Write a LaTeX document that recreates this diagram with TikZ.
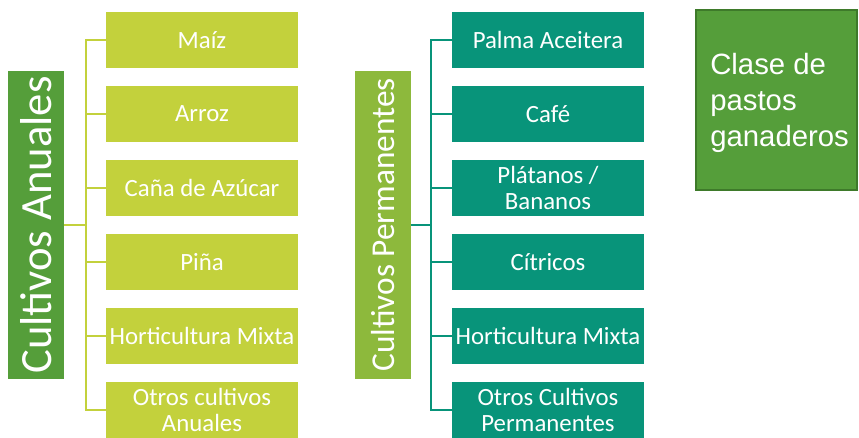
\documentclass[tikz,border=0pt]{standalone}
\usepackage{fontspec}
\usetikzlibrary{calc}
\setmainfont{Carlito}
\newfontfamily\arialfont{Liberation Sans}
\definecolor{labgreen}{HTML}{559E3A}
\definecolor{labgreenB}{HTML}{8DB93C}
\definecolor{lime}{HTML}{C3D13C}
\definecolor{teal}{HTML}{08947A}
\definecolor{boxedge}{HTML}{3E7A2A}
\begin{document}
\begin{tikzpicture}[x=0.75pt,y=-0.75pt,
  item/.style={rectangle, minimum width=144pt, minimum height=42pt, inner sep=0pt,
    text=white, font=\fontsize{18.6}{20}\selectfont, align=center},
  itemA/.style={item, fill=lime},
  itemB/.style={item, fill=teal},
  catlabel/.style={rectangle, rotate=90, minimum width=231pt, minimum height=42pt,
    inner sep=0pt, text=white},
  lineA/.style={draw=lime, line width=1.8pt},
  lineB/.style={draw=teal, line width=1.8pt}]
\useasboundingbox (0,0) rectangle (859,438);

% Left group
\node[catlabel, fill=labgreen, font=\fontsize{33.5}{36}\selectfont] (labA) at (36,225) {Cultivos Anuales};
\node[itemA] (a1) at (202,40) {Maíz};
\node[itemA] (a2) at (202,114) {Arroz};
\node[itemA] (a3) at (202,188) {Caña de Azúcar};
\node[itemA] (a4) at (202,262) {Piña};
\node[itemA] (a5) at (202,336) {Horticultura Mixta};
\node[itemA] (a6) at (202,410) {Otros cultivos\\Anuales};
\coordinate (busA) at (86,225);
\draw[lineA] (a1.west) -- ++(-20,0) -- ($(a6.west)+(-20,0)$) -- (a6.west);
\foreach \i in {2,...,5} \draw[lineA] (a\i.west) -- ++(-20,0);
\draw[lineA] (labA.south) -- (busA);

% Middle group
\node[catlabel, fill=labgreenB, font=\fontsize{25}{28}\selectfont] (labB) at (383,225) {Cultivos Permanentes};
\node[itemB] (b1) at (548,40) {Palma Aceitera};
\node[itemB] (b2) at (548,114) {Café};
\node[itemB] (b3) at (548,188) {Plátanos /\\Bananos};
\node[itemB] (b4) at (548,262) {Cítricos};
\node[itemB] (b5) at (548,336) {Horticultura Mixta};
\node[itemB] (b6) at (548,410) {Otros Cultivos\\Permanentes};
\coordinate (busB) at (431,225);
\draw[lineB] (b1.west) -- ++(-21,0) -- ($(b6.west)+(-21,0)$) -- (b6.west);
\foreach \i in {2,...,5} \draw[lineB] (b\i.west) -- ++(-21,0);
\draw[lineB] (labB.south) -- (busB);

% Right box
\node[rectangle, fill=labgreen, draw=boxedge, line width=1pt, minimum width=120.75pt,
  minimum height=135pt, inner sep=0pt] (pasto) at (776.5,100) {};
\node[anchor=west, inner sep=0pt, align=left, text=white,
  font=\arialfont\fontsize{22}{27}\selectfont] (pastotxt) at (710,103)
  {Clase de\\pastos\\ganaderos};
\end{tikzpicture}
\end{document}
